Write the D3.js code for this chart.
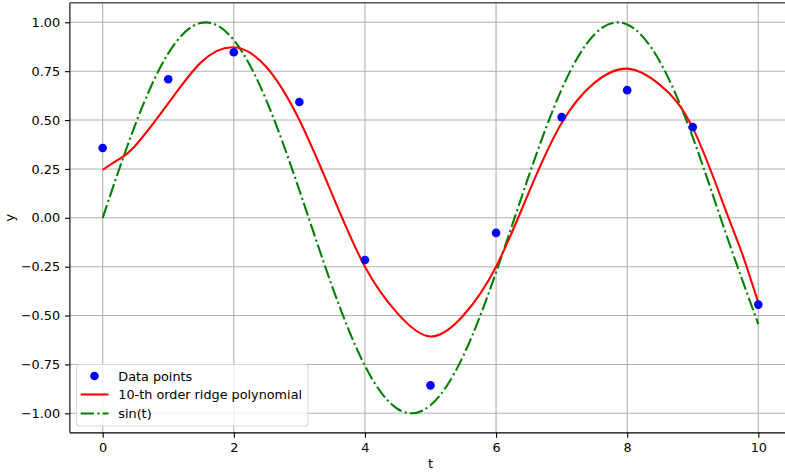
<!DOCTYPE html>
<html>
<head>
<meta charset="utf-8">
<script src="https://cdn.jsdelivr.net/npm/d3@7"></script>
<style>
    body { margin: 0; background: #fff; }
    svg { display: block; font-family: "DejaVu Sans", sans-serif; }
</style>
</head>
<body>
<svg width="785" height="473"></svg>
<script>
// measured data points
var pointT = [0, 1, 2, 3, 4, 5, 6, 7, 8, 9, 10];
var pointY = [0.357, 0.709, 0.847, 0.592, -0.216, -0.857, -0.077, 0.515, 0.653, 0.464, -0.444];

// fitted ridge polynomial (denser near the ends)
var ridgeT = [0, 0.25, 0.5, 1, 1.5, 2, 2.5, 3, 3.5, 4, 4.5, 5, 5.5, 6, 6.5, 7, 7.5, 8, 8.5, 9, 9.5, 9.75, 10];
var ridgeY = [0.245, 0.30, 0.37, 0.585, 0.795, 0.872, 0.77, 0.50, 0.12, -0.25, -0.49, -0.607, -0.50, -0.25, 0.13, 0.485, 0.69, 0.763, 0.68, 0.46, 0.04, -0.18, -0.435];

// true curve sampled every 0.5
var sinT = [0, 0.5, 1, 1.5, 2, 2.5, 3, 3.5, 4, 4.5, 5, 5.5, 6, 6.5, 7, 7.5, 8, 8.5, 9, 9.5, 10];
var sinY = [0, 0.479, 0.841, 0.997, 0.909, 0.598, 0.141, -0.351, -0.757, -0.978, -0.959, -0.706, -0.279, 0.215, 0.657, 0.938, 0.989, 0.798, 0.412, -0.075, -0.544];

var xTicks = [0, 2, 4, 6, 8, 10];
var yTicks = [-1, -0.75, -0.5, -0.25, 0, 0.25, 0.5, 0.75, 1];

var legendLabels = ['Data points', '10-th order ridge polynomial', 'sin(t)'];

var svg = d3.select('svg');
var fontSize = '12.8px';

//plot area, the right edge runs past the picture
var padding = {t: 2.75, l: 69.9};
var plotW = 721.2;
var plotH = 430.1;

var x = d3.scaleLinear().domain([-0.5, 10.5]).range([0, plotW]);
var y = d3.scaleLinear().domain([-1.1, 1.1]).range([plotH, 0]);

var chartG = svg.append('g')
    .attr('transform', 'translate(' + [padding.l, padding.t] + ')');

//grid lines
chartG.selectAll('.vgrid')
    .data(xTicks)
    .enter()
    .append('line')
    .attr('x1', function(d) {return x(d);})
    .attr('x2', function(d) {return x(d);})
    .attr('y1', 0)
    .attr('y2', plotH)
    .style('stroke', '#b0b0b0')
    .style('stroke-width', 1.1);

chartG.selectAll('.hgrid')
    .data(yTicks)
    .enter()
    .append('line')
    .attr('x1', 0)
    .attr('x2', plotW)
    .attr('y1', function(d) {return y(d);})
    .attr('y2', function(d) {return y(d);})
    .style('stroke', '#b0b0b0')
    .style('stroke-width', 1.1);

//lines
function smoothLine(ts) {
    return d3.line()
        .x(function(d, i) {return x(ts[i]);})
        .y(function(d) {return y(d);})
        .curve(d3.curveNatural);
}

chartG.append('path')
    .datum(sinY)
    .attr('d', smoothLine(sinT))
    .style('fill', 'none')
    .style('stroke', '#008000')
    .style('stroke-width', 2.08)
    .style('stroke-dasharray', '13.3,3.3,2.1,3.3');

chartG.append('path')
    .datum(ridgeY)
    .attr('d', smoothLine(ridgeT))
    .style('fill', 'none')
    .style('stroke', '#ff0000')
    .style('stroke-width', 2.08);

//scatter points
chartG.selectAll('circle.pt')
    .data(pointY)
    .enter()
    .append('circle')
    .attr('class', 'pt')
    .attr('cx', function(d, i) {return x(pointT[i]);})
    .attr('cy', function(d) {return y(d);})
    .attr('r', 4.3)
    .style('fill', '#0000ff');

//axes
var xAxis = d3.axisBottom(x).tickValues(xTicks).tickSize(4.9).tickPadding(4.9).tickFormat(d3.format('d'));
var yAxis = d3.axisLeft(y).tickValues(yTicks).tickSize(4.9).tickPadding(4.9).tickFormat(d3.format('.2f'));

var xg = chartG.append('g')
    .attr('transform', 'translate(0,' + plotH + ')')
    .call(xAxis);
var yg = chartG.append('g').call(yAxis);

[xg, yg].forEach(function(g) {
    g.select('.domain').remove();
    g.selectAll('line').style('stroke', '#000').style('stroke-width', 1.1);
    g.selectAll('text').style('font-size', fontSize).style('fill', '#000')
        .style('font-family', '"DejaVu Sans", sans-serif');
});

//spines, the top one shows greyish in the reference
chartG.append('line').attr('x1', 0).attr('x2', 0).attr('y1', 0).attr('y2', plotH)
    .style('stroke', '#000').style('stroke-width', 1.1);
chartG.append('line').attr('x1', 0).attr('x2', plotW).attr('y1', plotH).attr('y2', plotH)
    .style('stroke', '#000').style('stroke-width', 1.1);
chartG.append('line').attr('x1', 0).attr('x2', plotW).attr('y1', 0).attr('y2', 0)
    .style('stroke', '#555').style('stroke-width', 1.6);

//axis titles
svg.append('text')
    .attr('x', padding.l + plotW / 2)
    .attr('y', 468)
    .attr('text-anchor', 'middle')
    .style('font-size', fontSize)
    .text('t');

svg.append('text')
    .attr('transform', 'translate(14,' + (padding.t + plotH / 2) + ') rotate(-90)')
    .attr('text-anchor', 'middle')
    .style('font-size', fontSize)
    .text('y');

//legend, lower left
var legendG = svg.append('g').attr('transform', 'translate(76.5,364.5)');

legendG.append('rect')
    .attr('width', 231.5)
    .attr('height', 61.5)
    .attr('rx', 3)
    .style('fill', 'rgba(255,255,255,0.8)')
    .style('stroke', '#d9d9d9')
    .style('stroke-width', 1.1);

var rowY = [11.5, 30, 49];

legendG.append('circle')
    .attr('cx', 18).attr('cy', rowY[0]).attr('r', 4.3)
    .style('fill', '#0000ff');
legendG.append('line')
    .attr('x1', 4.2).attr('x2', 32).attr('y1', rowY[1]).attr('y2', rowY[1])
    .style('stroke', '#ff0000').style('stroke-width', 2.08);
legendG.append('line')
    .attr('x1', 4.2).attr('x2', 32).attr('y1', rowY[2]).attr('y2', rowY[2])
    .style('stroke', '#008000').style('stroke-width', 2.08)
    .style('stroke-dasharray', '13.3,3.3,2.1,3.3');

legendG.selectAll('text.lab')
    .data(legendLabels)
    .enter()
    .append('text')
    .attr('class', 'lab')
    .attr('x', 41.8)
    .attr('y', function(d, i) {return rowY[i];})
    .attr('dy', '0.36em')
    .style('font-size', fontSize)
    .text(function(d) {return d;});
</script>
</body>
</html>
